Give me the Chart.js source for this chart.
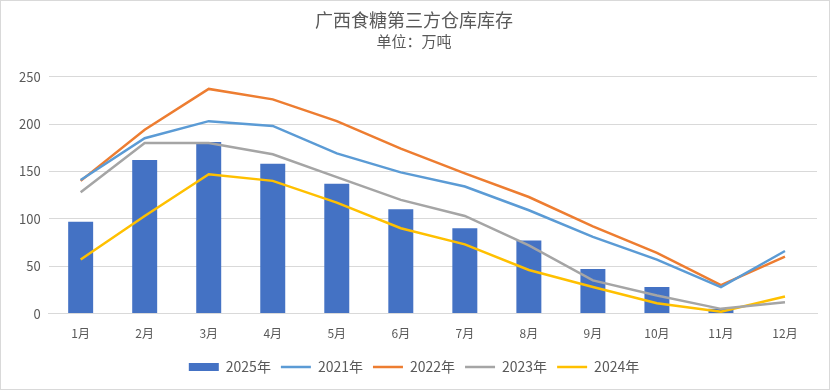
<!DOCTYPE html>
<html>
<head>
<meta charset="utf-8">
<script src="https://cdn.jsdelivr.net/npm/chart.js@4"></script>
<style>
  body { margin: 0; background: #fff; }
  #wrap { width: 828px; height: 388px; border: 1px solid #d9d9d9; }
</style>
</head>
<body>
<div id="wrap"><canvas id="canvas1" width="828" height="388"></canvas></div>
<script>
"use strict";

// data
let months = ["1月", "2月", "3月", "4月", "5月", "6月", "7月", "8月", "9月", "10月", "11月", "12月"];
let y2025 = [97, 162, 181, 158, 137, 110, 90, 77, 47, 28, 5, null];
let y2021 = [141, 185, 203, 198, 169, 149, 134, 109, 81, 57, 28, 66];
let y2022 = [140, 194, 237, 226, 203, 174, 148, 123, 92, 64, 30, 60];
let y2023 = [128, 180, 180, 168, 144, 120, 103, 72, 35, 19, 5, 12];
let y2024 = [57, 103, 147, 140, 117, 90, 73, 46, 28, 11, 2, 18];

let font = "'Noto Sans CJK SC', 'Noto Sans', sans-serif";
let grey = "#595959";

function lineSet(label, data, color)
{
    return {
        type: "line", label: label, data: data,
        borderColor: color, backgroundColor: color,
        borderWidth: 2.5, pointRadius: 0, tension: 0,
        pointStyle: "line", order: 1,
    };
}

let canvas1 = document.querySelector("#canvas1");

let opts = {
    type: "bar",
    data: {
        labels: months,
        datasets: [
            { label: "2025年", data: y2025, backgroundColor: "#4472c4", borderColor: "#4472c4",
              barPercentage: 0.78, categoryPercentage: 0.5, pointStyle: "rect", order: 2 },
            lineSet("2021年", y2021, "#5b9bd5"),
            lineSet("2022年", y2022, "#ed7d31"),
            lineSet("2023年", y2023, "#a5a5a5"),
            lineSet("2024年", y2024, "#ffc000"),
        ],
    },
    options: {
        responsive: false,
        animation: false,
        layout: { padding: { left: 10, right: 12, top: 2, bottom: 5 } },
        plugins: {
            title: {
                display: true, text: "广西食糖第三方仓库库存", color: grey,
                font: { family: font, size: 18, weight: "normal" }, padding: { top: 6, bottom: 2 },
            },
            subtitle: {
                display: true, text: "单位：万吨", color: grey,
                font: { family: font, size: 15 }, padding: { bottom: 26 },
            },
            legend: {
                position: "bottom",
                labels: {
                    usePointStyle: true, pointStyleWidth: 30, boxHeight: 8,
                    color: grey, font: { family: font, size: 14 }, padding: 10,
                    sort: (a, b) => a.datasetIndex - b.datasetIndex,
                },
            },
            tooltip: { enabled: false },
        },
        scales: {
            x: {
                grid: { display: false },
                border: { color: "#d9d9d9", width: 1 },
                ticks: { color: grey, font: { family: font, size: 12 }, padding: 5 },
                afterFit: (s) => { s.height += 4; },
            },
            y: {
                min: 0, max: 250,
                ticks: { stepSize: 50, color: grey, font: { family: font, size: 13 }, padding: 8 },
                grid: { color: "#d9d9d9", drawTicks: false },
                border: { display: false },
            },
        },
    },
};

let chart1 = new Chart(canvas1, opts);
</script>
</body>
</html>
